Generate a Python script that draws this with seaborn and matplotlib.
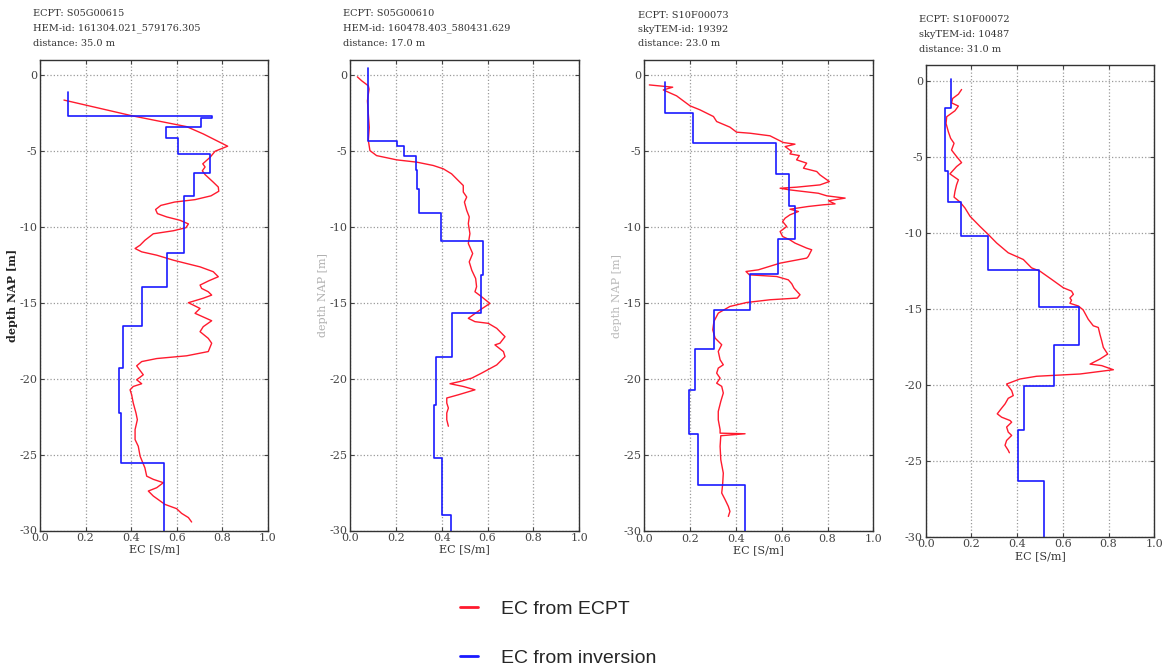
import numpy as np
import pandas as pd
import matplotlib
matplotlib.use("Agg")
import matplotlib.pyplot as plt
import seaborn as sns

# ---------------- data ----------------
titles = [
    ["ECPT: S05G00615", "HEM-id: 161304.021_579176.305", "distance: 35.0 m"],
    ["ECPT: S05G00610", "HEM-id: 160478.403_580431.629", "distance: 17.0 m"],
    ["ECPT: S10F00073", "skyTEM-id: 19392", "distance: 23.0 m"],
    ["ECPT: S10F00072", "skyTEM-id: 10487", "distance: 31.0 m"],
]

# inversion layers: top depth of each layer [m NAP] and EC [S/m]
inv_top_1 = [-1.09, -2.69, -2.84, -3.41, -4.17, -5.19, -6.44, -7.97, -11.74, -13.97, -16.50, -19.28, -22.29, -25.54]
inv_ec_1 = [0.121, 0.756, 0.708, 0.553, 0.604, 0.746, 0.677, 0.633, 0.558, 0.446, 0.365, 0.345, 0.354, 0.544]
inv_top_2 = [0.50, -4.31, -4.68, -5.30, -6.28, -7.48, -9.06, -10.94, -13.17, -15.69, -18.54, -21.71, -25.21, -28.98]
inv_ec_2 = [0.077, 0.204, 0.237, 0.288, 0.294, 0.301, 0.397, 0.581, 0.570, 0.443, 0.375, 0.368, 0.403, 0.440]
inv_top_3 = [-0.42, -2.46, -4.43, -6.49, -8.58, -10.79, -13.07, -15.48, -18.01, -20.70, -23.60, -27.00]
inv_ec_3 = [0.091, 0.214, 0.574, 0.631, 0.658, 0.585, 0.463, 0.303, 0.223, 0.195, 0.236, 0.440]
inv_top_4 = [0.13, -1.79, -5.92, -7.99, -10.20, -12.47, -14.87, -17.38, -20.07, -22.97, -26.31]
inv_ec_4 = [0.112, 0.086, 0.099, 0.154, 0.272, 0.494, 0.672, 0.561, 0.430, 0.405, 0.519]
inv_base = -31.0

# ECPT logs
ecpt_ec_1 = [0.105, 0.402, 0.643, 0.716, 0.823, 0.768, 0.746, 0.714, 0.724, 0.712, 0.724, 0.760, 0.782, 0.784,
             0.750, 0.680, 0.590, 0.530, 0.507, 0.515, 0.556, 0.614, 0.651, 0.640, 0.585, 0.497, 0.460, 0.439,
             0.417, 0.446, 0.512, 0.585, 0.643, 0.702, 0.760, 0.782, 0.740, 0.702, 0.709, 0.738, 0.753, 0.715,
             0.651, 0.702, 0.680, 0.753, 0.716, 0.702, 0.738, 0.753, 0.738, 0.643, 0.512, 0.446, 0.424, 0.439,
             0.453, 0.424, 0.446, 0.409, 0.395, 0.402, 0.409, 0.421, 0.427, 0.417, 0.417, 0.431, 0.439, 0.460,
             0.468, 0.497, 0.541, 0.512, 0.475, 0.497, 0.548, 0.599, 0.621, 0.651, 0.665]
ecpt_z_1 = [-1.64, -2.67, -3.39, -3.87, -4.68, -5.01, -5.41, -5.84, -6.05, -6.30, -6.55, -7.05, -7.37, -7.65,
            -7.95, -8.20, -8.36, -8.58, -8.85, -9.12, -9.34, -9.56, -9.80, -10.05, -10.25, -10.45, -10.88, -11.20,
            -11.42, -11.64, -11.86, -12.19, -12.41, -12.63, -12.95, -13.28, -13.55, -13.83, -14.05, -14.27, -14.49, -14.70,
            -14.99, -15.37, -15.69, -16.18, -16.57, -16.90, -17.34, -17.66, -18.21, -18.49, -18.67, -18.87, -19.15, -19.46,
            -19.74, -20.07, -20.33, -20.51, -20.73, -21.06, -21.60, -22.26, -22.70, -23.35, -24.01, -24.45, -25.10, -25.87,
            -26.42, -26.63, -26.85, -27.18, -27.40, -27.73, -28.28, -28.56, -28.87, -29.15, -29.44]

ecpt_ec_2 = [0.032, 0.051, 0.080, 0.083, 0.076, 0.080, 0.084, 0.080, 0.087, 0.116, 0.204, 0.291, 0.363, 0.407,
             0.443, 0.472, 0.494, 0.494, 0.509, 0.499, 0.509, 0.520, 0.516, 0.523, 0.516, 0.535, 0.520, 0.531,
             0.548, 0.552, 0.545, 0.574, 0.610, 0.567, 0.516, 0.545, 0.603, 0.640, 0.676, 0.654, 0.632, 0.669,
             0.676, 0.640, 0.574, 0.531, 0.480, 0.436, 0.494, 0.545, 0.472, 0.422, 0.422, 0.429, 0.422, 0.422, 0.429]
ecpt_z_2 = [-0.11, -0.37, -0.70, -0.92, -1.69, -2.56, -3.44, -4.31, -4.97, -5.30, -5.58, -5.73, -5.95, -6.17,
            -6.50, -6.94, -7.27, -7.70, -8.03, -8.36, -8.91, -9.34, -9.78, -10.44, -11.09, -11.75, -12.30, -12.85,
            -13.40, -13.94, -14.27, -14.60, -15.04, -15.47, -16.02, -16.24, -16.35, -16.68, -17.23, -17.66, -17.77, -18.21,
            -18.54, -19.09, -19.63, -19.96, -20.18, -20.33, -20.51, -20.73, -21.06, -21.27, -21.60, -21.93, -22.26, -22.70, -23.13]

ecpt_ec_3 = [0.022, 0.124, 0.083, 0.141, 0.200, 0.243, 0.302, 0.316, 0.374, 0.403, 0.462, 0.549, 0.578, 0.607,
             0.658, 0.615, 0.644, 0.636, 0.677, 0.665, 0.709, 0.695, 0.753, 0.767, 0.808, 0.767, 0.665, 0.593,
             0.636, 0.760, 0.797, 0.877, 0.804, 0.833, 0.782, 0.716, 0.636, 0.673, 0.636, 0.615, 0.604, 0.622,
             0.593, 0.604, 0.636, 0.658, 0.709, 0.731, 0.716, 0.709, 0.593, 0.498, 0.444, 0.459, 0.578, 0.629,
             0.644, 0.654, 0.680, 0.668, 0.549, 0.447, 0.374, 0.323, 0.304, 0.299, 0.309, 0.338, 0.323, 0.331,
             0.345, 0.323, 0.316, 0.331, 0.316, 0.338, 0.345, 0.334, 0.323, 0.323, 0.331, 0.331, 0.440, 0.334,
             0.331, 0.334, 0.345, 0.342, 0.338, 0.353, 0.367, 0.374, 0.367]
ecpt_z_3 = [-0.64, -0.79, -0.97, -1.36, -2.02, -2.28, -2.72, -3.05, -3.42, -3.75, -3.82, -3.99, -4.21, -4.43,
            -4.54, -4.70, -5.02, -5.18, -5.29, -5.57, -5.79, -6.12, -6.34, -6.56, -7.00, -7.22, -7.37, -7.44,
            -7.55, -7.77, -7.94, -8.09, -8.27, -8.47, -8.53, -8.64, -8.82, -8.97, -9.19, -9.41, -9.63, -9.96,
            -10.29, -10.62, -10.84, -11.05, -11.38, -11.49, -11.93, -12.04, -12.37, -12.81, -12.92, -13.14, -13.25, -13.47,
            -13.73, -14.02, -14.45, -14.67, -14.78, -14.96, -15.22, -15.66, -16.21, -16.76, -17.30, -17.74, -18.18, -18.73,
            -19.06, -19.28, -19.61, -19.94, -20.27, -20.48, -20.92, -21.47, -22.13, -22.68, -23.33, -23.56, -23.60, -23.73,
            -24.43, -25.31, -26.19, -26.95, -27.50, -27.94, -28.38, -28.71, -29.04]

ecpt_ec_4 = [0.157, 0.143, 0.118, 0.113, 0.143, 0.128, 0.092, 0.089, 0.099, 0.109, 0.124, 0.113, 0.135, 0.157,
             0.135, 0.106, 0.143, 0.135, 0.128, 0.124, 0.150, 0.172, 0.194, 0.237, 0.274, 0.310, 0.361, 0.427,
             0.463, 0.500, 0.551, 0.602, 0.638, 0.646, 0.631, 0.638, 0.631, 0.668, 0.689, 0.711, 0.733, 0.755,
             0.762, 0.770, 0.777, 0.796, 0.762, 0.719, 0.770, 0.821, 0.675, 0.485, 0.412, 0.354, 0.376, 0.383,
             0.361, 0.347, 0.332, 0.313, 0.332, 0.369, 0.376, 0.354, 0.361, 0.376, 0.354, 0.347, 0.361, 0.366]
ecpt_z_4 = [-0.59, -0.90, -1.18, -1.47, -1.68, -1.99, -2.38, -2.82, -3.37, -3.80, -4.13, -4.57, -5.00, -5.40,
            -5.66, -6.14, -6.53, -6.86, -7.30, -7.67, -7.99, -8.39, -8.93, -9.59, -10.13, -10.68, -11.33, -11.77,
            -12.32, -12.54, -13.08, -13.63, -13.85, -14.06, -14.30, -14.45, -14.65, -14.83, -15.09, -15.70, -16.13, -16.24,
            -16.68, -17.12, -17.55, -17.99, -18.32, -18.65, -18.75, -19.02, -19.30, -19.45, -19.63, -19.96, -20.39, -20.72,
            -20.90, -21.27, -21.55, -21.92, -22.14, -22.36, -22.47, -22.79, -23.12, -23.34, -23.67, -23.99, -24.32, -24.48]

x_ticks = [0.0, 0.2, 0.4, 0.6, 0.8, 1.0]
y_ticks = [0, -5, -10, -15, -20, -25, -30]

inv_tops = [inv_top_1, inv_top_2, inv_top_3, inv_top_4]
inv_ecs = [inv_ec_1, inv_ec_2, inv_ec_3, inv_ec_4]
ecpt_ecs = [ecpt_ec_1, ecpt_ec_2, ecpt_ec_3, ecpt_ec_4]
ecpt_zs = [ecpt_z_1, ecpt_z_2, ecpt_z_3, ecpt_z_4]

# ---------------- style ----------------
sns.set_style("white")
plt.rcParams["font.family"] = ["DejaVu Serif"]
plt.rcParams["axes.unicode_minus"] = False

W, H = 1162, 668
fig = plt.figure(figsize=(W / 100, H / 100), dpi=100)
fig.patch.set_facecolor("white")

# axes boxes in pixels: left, top, right, bottom
boxes = [(40, 60, 268, 530.5), (350, 60, 579.3, 530.5), (644.3, 60, 873.3, 531), (925.7, 65.3, 1154.3, 536.7)]
title_pos = [(33, 14), (343, 14), (638, 15), (919, 20)]
ylabel_colors = ["#222222", "#b0b0b0", "#b8b8b8", None]

axes = []
for i in range(4):
    l, t, r, b = boxes[i]
    ax = fig.add_axes([l / W, 1 - b / H, (r - l) / W, (b - t) / H])
    axes.append(ax)

    # inversion model as step profile
    xs, zs = [], []
    tops = inv_tops[i]
    for k, (top, ec) in enumerate(zip(tops, inv_ecs[i])):
        bot = tops[k + 1] if k + 1 < len(tops) else inv_base
        xs += [ec, ec]
        zs += [top, bot]
    df_inv = pd.DataFrame({"ec": xs, "z": zs})
    df_cpt = pd.DataFrame({"ec": ecpt_ecs[i], "z": ecpt_zs[i]})

    sns.lineplot(data=df_cpt, x="ec", y="z", sort=False, estimator=None, color="#ff1a2e",
                 linewidth=1.0, ax=ax, label="EC from ECPT", legend=False)
    sns.lineplot(data=df_inv, x="ec", y="z", sort=False, estimator=None, color="#1a1aff",
                 linewidth=1.2, ax=ax, label="EC from inversion", legend=False)

    ax.set_xlim(0, 1)
    ax.set_ylim(-30, 1)
    ax.set_xticks(x_ticks)
    ax.set_xticklabels([f"{v:.1f}" for v in x_ticks])
    ax.set_yticks(y_ticks)
    ax.set_yticklabels([str(v) for v in y_ticks])
    ax.grid(True, color="#9a9a9a", linestyle=":", linewidth=0.9)
    ax.tick_params(direction="in", length=3, labelsize=8, colors="#444444", pad=2,
                   top=True, right=True, bottom=True, left=True)
    for s in ax.spines.values():
        s.set_color("#333333")
        s.set_linewidth(1.0)
    ax.set_xlabel("EC [S/m]", fontsize=8, color="#333333", labelpad=1)
    if ylabel_colors[i] is not None:
        ax.set_ylabel("depth NAP [m]", fontsize=8, color=ylabel_colors[i],
                      fontweight="bold" if i == 0 else "normal", labelpad=1)
    else:
        ax.set_ylabel("")

    tx, ty = title_pos[i]
    for j, line in enumerate(titles[i]):
        fig.text(tx / W, 1 - (ty + 14.5 * j) / H, line, fontsize=7.0, color="#333333",
                 ha="left", va="center")

handles = [h for h in axes[0].get_lines() if h.get_label() in ("EC from ECPT", "EC from inversion")]
leg = fig.legend(handles=handles, labels=[h.get_label() for h in handles],
                 loc="center left", bbox_to_anchor=(452 / W, 1 - 633.5 / H),
                 bbox_transform=fig.transFigure, frameon=False, borderaxespad=0,
                 handlelength=0.95, handletextpad=1.15, labelspacing=1.6,
                 prop={"family": "Liberation Sans", "size": 14})
for h in leg.legend_handles:
    h.set_linewidth(2.0)

fig.savefig("out.png", dpi=100, facecolor="white")
